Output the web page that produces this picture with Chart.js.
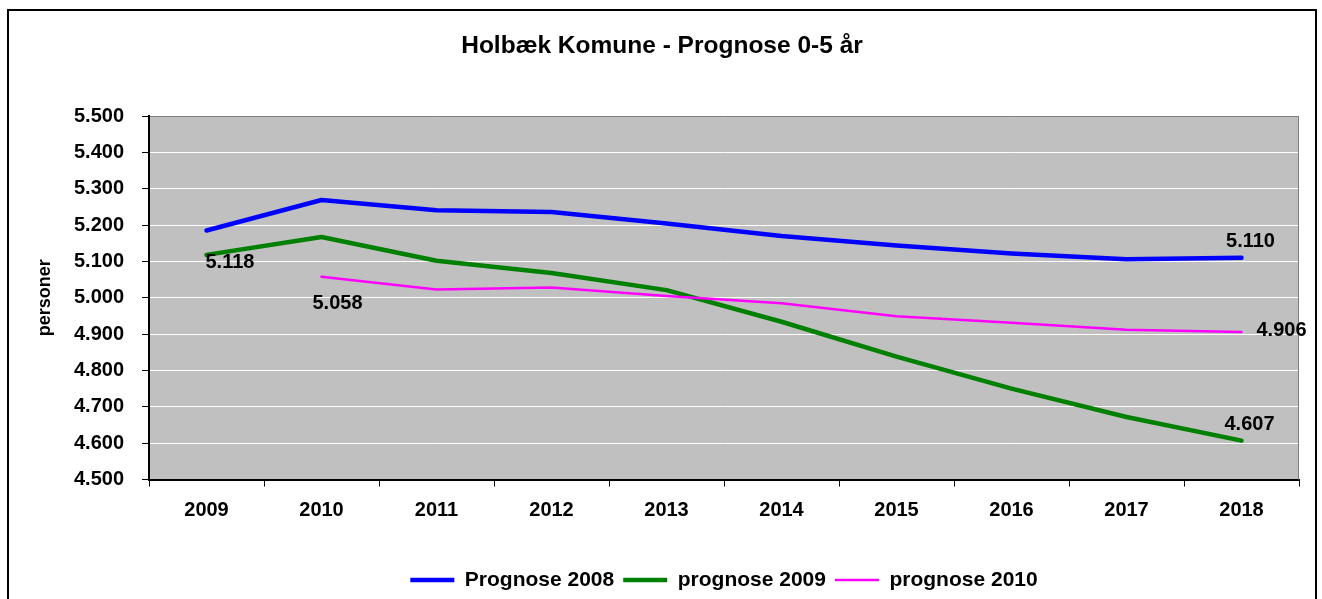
<!DOCTYPE html>
<html><head><meta charset="utf-8">
<script src="https://cdn.jsdelivr.net/npm/chart.js@4/dist/chart.umd.min.js"></script>
<style>html,body{margin:0;padding:0;background:#fff;overflow:hidden}#wrap{position:relative;width:1322px;height:599px}canvas{display:block}</style>
</head><body><div id="wrap"><canvas id="c" width="1322" height="599" style="width:1322px;height:599px"></canvas></div>
<script>
// ---- data ----
const years = ['2009','2010','2011','2012','2013','2014','2015','2016','2017','2018'];
const prognose2008 = [5185, 5269, 5241, 5236, 5204, 5170, 5144, 5122, 5106, 5110];
const prognose2009 = [5118, 5167, 5102, 5068, 5021, 4934, 4838, 4750, 4672, 4607];
const prognose2010 = [null, 5058, 5023, 5028, 5005, 4985, 4949, 4931, 4912, 4906];
const seriesNames = ['Prognose 2008', 'prognose 2009', 'prognose 2010'];
const yMin = 4500, yMax = 5500, yStep = 100;
const chartTitle = 'Holbæk Komune - Prognose 0-5 år';
const yTitle = 'personer';

// ---- helpers / styling ----
const FONT = "'Liberation Sans', Arial, Helvetica, sans-serif";
Chart.defaults.font.family = FONT;
Chart.defaults.color = '#000';
const fmt = v => String(Math.round(v)).replace(/\B(?=(\d{3})+(?!\d))/g, '.');

// which points get a value label, and where relative to the point
const labelSpec = [
  {ds: 0, idx: 9, dx: 9,  dy: -16, align: 'center'},
  {ds: 1, idx: 0, dx: -1, dy: 8,   align: 'left'},
  {ds: 1, idx: 9, dx: 8,  dy: -16, align: 'center'},
  {ds: 2, idx: 1, dx: -9, dy: 27,  align: 'left'},
  {ds: 2, idx: 9, dx: 15, dy: -1,  align: 'left'}
];

const framePlugin = {
  id: 'frame',
  beforeDraw(chart) {
    const {ctx, chartArea: a} = chart;
    ctx.save();
    ctx.strokeStyle = '#000';
    ctx.lineWidth = 2;
    ctx.strokeRect(8, 10, 1308, 700);
    ctx.fillStyle = '#C0C0C0';
    ctx.fillRect(a.left, a.top, a.right - a.left, a.bottom - a.top);
    ctx.restore();
  },
  beforeDatasetsDraw(chart) {
    const {ctx, chartArea: a} = chart;
    ctx.save();
    ctx.strokeStyle = '#808080';
    ctx.lineWidth = 1;
    ctx.beginPath();
    ctx.moveTo(a.right - 0.5, a.top);
    ctx.lineTo(a.right - 0.5, a.bottom);
    ctx.stroke();
    ctx.restore();
  }
};

const valueLabels = {
  id: 'valueLabels',
  afterDatasetsDraw(chart) {
    const {ctx} = chart;
    ctx.save();
    ctx.font = 'bold 20px ' + FONT;
    ctx.fillStyle = '#000';
    ctx.textBaseline = 'middle';
    labelSpec.forEach(s => {
      const el = chart.getDatasetMeta(s.ds).data[s.idx];
      const v = chart.data.datasets[s.ds].data[s.idx];
      if (!el || v == null) return;
      ctx.textAlign = s.align;
      ctx.fillText(fmt(v), el.x + s.dx, el.y + s.dy);
    });
    ctx.restore();
  }
};

new Chart(document.getElementById('c'), {
  type: 'line',
  data: {
    labels: years,
    datasets: [
      {label: seriesNames[0], data: prognose2008, borderColor: '#0000FF', backgroundColor: '#0000FF', borderWidth: 4.5, order: 2},
      {label: seriesNames[1], data: prognose2009, borderColor: '#008000', backgroundColor: '#008000', borderWidth: 4.5, order: 1},
      {label: seriesNames[2], data: prognose2010, borderColor: '#FF00FF', backgroundColor: '#FF00FF', borderWidth: 2.5, order: 0}
    ]
  },
  options: {
    responsive: false,
    maintainAspectRatio: false,
    animation: false,
    devicePixelRatio: 1,
    elements: {point: {radius: 0, hoverRadius: 0}, line: {tension: 0, borderCapStyle: 'round', borderJoinStyle: 'round'}},
    layout: {padding: {left: 25, right: 23, top: 0, bottom: -1.5}},
    plugins: {
      tooltip: {enabled: false},
      title: {
        display: true, text: chartTitle, color: '#000',
        font: {size: 24.5, weight: 'bold', lineHeight: 1.2},
        padding: {top: 31.5, bottom: 55.1}
      },
      legend: {
        position: 'bottom', fullSize: false,
        labels: {
          usePointStyle: true, pointStyle: 'line', pointStyleWidth: 44,
          font: {size: 21, weight: 'bold'}, color: '#000', padding: 9,
          sort: (a, b) => a.datasetIndex - b.datasetIndex
        }
      }
    },
    scales: {
      x: {
        offset: true,
        grid: {display: true, drawOnChartArea: false, drawTicks: true, tickLength: 7, color: '#000', offset: true},
        border: {display: true, color: '#000', width: 2},
        ticks: {font: {size: 20, weight: 'bold'}, color: '#000', padding: 12, maxRotation: 0},
        afterFit: s => { s.height = 81; }
      },
      y: {
        min: yMin, max: yMax,
        grid: {
          color: c => (c.tick && c.tick.value === yMax) ? '#808080' : '#FFFFFF',
          tickColor: '#000', tickLength: 7, lineWidth: 1
        },
        border: {display: true, color: '#000', width: 2},
        ticks: {stepSize: yStep, font: {size: 20, weight: 'bold'}, color: '#000', padding: 18, callback: v => fmt(v)},
        title: {display: true, text: yTitle, color: '#000', font: {size: 18, weight: 'bold', lineHeight: 1.2}, padding: {top: 9, bottom: 10}},
        afterFit: s => { s.width = 124; }
      }
    }
  },
  plugins: [framePlugin, valueLabels]
});
</script>
</body></html>
